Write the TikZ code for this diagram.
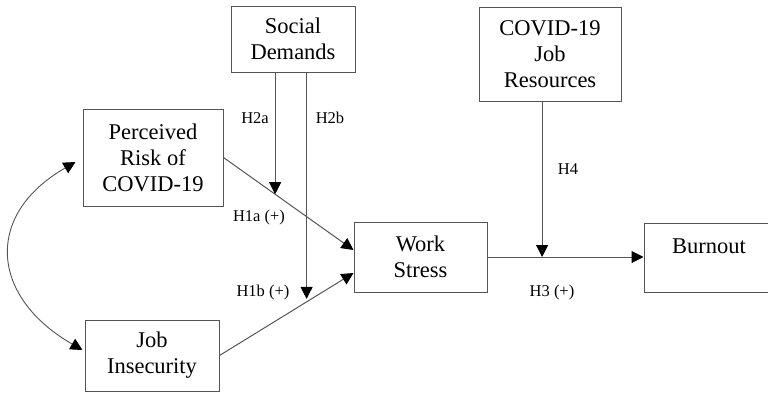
\documentclass[tikz,border=0pt]{standalone}
\usepackage{fontspec}
\setmainfont{Liberation Serif}
\usetikzlibrary{arrows.meta,positioning,calc}
\definecolor{linegray}{RGB}{85,85,85}

\begin{document}
\begin{tikzpicture}[x=1pt,y=-1pt,
    box/.style={draw=linegray, line width=1pt, align=center, inner sep=0pt,
      font=\fontsize{22.5}{26}\selectfont},
    hyp/.style={inner sep=0pt, font=\fontsize{16.5}{19}\selectfont},
    tip/.style={-{Triangle[length=12pt,width=12pt,color=black]}},
    conn/.style={draw=linegray, line width=1pt, tip}]
        \useasboundingbox (0,0) rectangle (768,392);
        \node[box, minimum width=124, minimum height=66] (soc) at (293,39) {Social\\Demands};
        \node[box, minimum width=140, minimum height=97] (risk) at (153,157.5) {Perceived\\Risk of\\COVID-19};
        \node[box, minimum width=142, minimum height=94] (res) at (550,54) {COVID-19\\Job\\Resources};
        \node[box, minimum width=133, minimum height=70] (stress) at (420.5,257) {Work\\Stress};
        \node[box, minimum width=130, minimum height=69, text depth=22pt] (burn) at (709,257.5) {Burnout};
        \node[box, minimum width=134, minimum height=71] (insec) at (152,355.5) {Job\\Insecurity};
        % main paths
        \draw[conn] (risk.east) -- coordinate[pos=0.397] (h2a) ($(stress.west)+(0,-7)$);
        \draw[conn] (insec.east) -- coordinate[pos=0.65] (h2b) ($(stress.west)+(0,16)$);
        \draw[conn] (stress.east) -- coordinate[pos=0.35] (h4) (stress.east -| burn.west);
        % moderators
        \draw[conn] (h2a |- soc.south) -- (h2a);
        \draw[conn, shorten >=3pt] (h2b |- soc.south) -- (h2b);
        \draw[conn] (h4 |- res.south) -- (h4);
        % covariance
        \draw[linegray, line width=0.9pt,
          {Triangle[length=12pt,width=12pt,color=black]}-{Triangle[length=12pt,width=12pt,color=black]}]
          ([xshift=-7pt,yshift=-4.5pt]risk.west) .. controls +(-92,53) and +(-92,-53) .. ([xshift=-2pt,yshift=5.5pt]insec.west);
        \node[hyp] (l2a) at (255,118) {H2a};
        \node[hyp] (l2b) at (330,118) {H2b};
        \node[hyp] (l4) at (568,169) {H4};
        \node[hyp] (l1a) at (259,218) {H1a (+)};
        \node[hyp] (l1b) at (263,293) {H1b (+)};
        \node[hyp] (l3) at (552,293) {H3 (+)};
      \end{tikzpicture}
\end{document}
